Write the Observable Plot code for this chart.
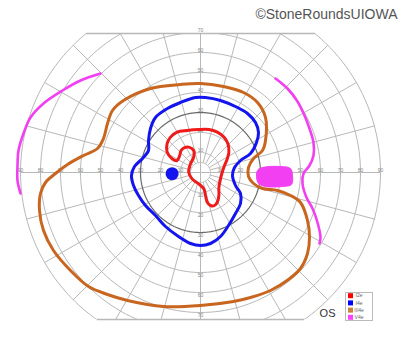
<!DOCTYPE html>
<html><head><meta charset="utf-8">
<script src="https://cdn.jsdelivr.net/npm/d3@7"></script>
<script src="https://cdn.jsdelivr.net/npm/@observablehq/plot@0.6"></script>
<style>
body{margin:0;background:#fff;font-family:"Liberation Sans",Arial,sans-serif}
#wrap{position:relative;width:400px;height:352px}
</style></head><body><div id="wrap"></div>
<script>
// ---- data ----
const isopterNames = ["I2e", "I4e", "III4e", "V4e"];
const isopterColors = ["#ee1b1b", "#1414ee", "#c8651e", "#f23ff2"];
const legendColors = ["#ff0000", "#0000ff", "#c8843c", "#ff40ff"];
const ringEcc = [5, 10, 20, 30, 40, 50, 60, 70, 80, 90];
const meridians = d3.range(0, 360, 15);
const horizTicks = [10, 20, 30, 40, 50, 60, 70, 80, 90];
const vertTicks = [10, 20, 30, 40, 50, 60, 70];
const fieldLimits = [69.5, -73.5]; // top, bottom cut of chart (deg)

// isopters, [horizontal deg, vertical deg]
const i2e = [[-16.7,14.4],[-16.7,10.2],[-14.2,6.9],[-11.7,6],[-10.4,8.5],[-9.7,11],[-8,12.4],[-5.9,12.7],[-3.4,11],[-3.4,7.7],[-5,4.4],[-5.9,0.2],[-4.2,-3.2],[-0.9,-5.7],[1.7,-8.2],[2.5,-11.5],[3.4,-14.9],[5,-16.5],[7,-16.5],[8.4,-14.9],[9.2,-11.5],[9.2,-7.4],[10,-3.2],[10.9,0.2],[12,3.5],[13.4,6.9],[14.2,10.2],[13.7,14.4],[11.7,17.7],[8.4,20.2],[4.2,21.5],[-0.9,21.5],[-6.7,21],[-11.7,20.2],[-15,17.7]];
const i4e = [[-2.5,37.5],[2.5,37.5],[10,36],[18.5,32.5],[23.5,29.5],[27.5,25],[29,20],[28,15],[25,9.5],[20,6],[17,2.5],[16,-1.5],[17.5,-6.5],[20,-10.5],[20,-15.5],[17.5,-20.5],[14,-26.5],[10,-32],[5,-35.5],[0,-36.5],[-5,-35.5],[-11,-32],[-17.5,-27],[-22.5,-21.5],[-27.5,-16.5],[-31,-11.5],[-33.5,-6.5],[-34.5,-1.5],[-33,3],[-29,7],[-26,11],[-26,16],[-25,22],[-22.5,27.5],[-16.5,32],[-10,35]];
const i4eBlindSpot = [[-14.2,-0.6]];
const iii4e = [[0,44.5],[11.5,43],[21.5,40],[28.5,35],[32.5,27.5],[32.5,16],[31,11],[26.5,7],[24,2.5],[24,-2],[26.5,-5.5],[31,-8],[38.5,-9],[45,-11.5],[50,-15],[53.5,-24],[54.5,-32.5],[53.5,-40.5],[50,-48],[44,-53.5],[35,-59],[25,-62.5],[16.5,-64.5],[0,-66.5],[-18.5,-67],[-36.5,-64],[-46.5,-61],[-56,-57],[-65,-49],[-73.5,-39],[-78.5,-29],[-80.5,-19],[-80,-10.5],[-77.5,-5],[-72.5,-0.5],[-66.5,4],[-58.5,8.5],[-51.5,12],[-48.5,17],[-46.5,24.5],[-44,31],[-38.5,36],[-25,42],[-10,44]];
const v4eTemporal = [[-50,49.5],[-60,46],[-69,41],[-78.5,34.5],[-85,27.5],[-88.5,19.5],[-91,11],[-91.5,3.5],[-91.5,-4],[-90,-10.5]];
const v4eNasal = [[37.5,47],[43.5,42],[48.5,35.5],[52,28.5],[54.5,22],[56.5,15],[56.5,8.5],[54.5,3.5],[51.5,-0.5],[51,-5.5],[53,-12.5],[56,-18],[58.5,-25],[60,-32.5],[59.5,-35.5]];
const v4eScotoma = [[28.5,1],[31,2.5],[40,3],[45,2],[46,-1.5],[45.5,-6],[41,-7],[32.5,-7],[29,-5.5],[28,-2]];

// ---- derived grid geometry ----
const rad = a => a * Math.PI / 180;
const ringPts = ringEcc.flatMap(r => d3.range(0, 360, 2).map(a => ({r, x: r * Math.cos(rad(a)), y: r * Math.sin(rad(a))})));
const outer = ringEcc[ringEcc.length - 1];
const spokes = meridians.map(a => {
  const r0 = a % 90 === 0 ? 0 : ringEcc[0];
  return {x1: r0 * Math.cos(rad(a)), y1: r0 * Math.sin(rad(a)), x2: outer * Math.cos(rad(a)), y2: outer * Math.sin(rad(a))};
});
const cuts = fieldLimits.map(y => ({y, x1: -Math.sqrt(outer * outer - y * y), x2: Math.sqrt(outer * outer - y * y)}));
const hLabels = horizTicks.flatMap(v => [{x: -v, t: String(v)}, {x: v, t: String(v)}]);
const vLabels = vertTicks.flatMap(v => [{y: v, t: String(v), top: true}, {y: -v, t: String(v), top: false}]);
const xy = {x: d => d[0], y: d => d[1]};

const grid = "#b8b8b8";
const chart = Plot.plot({
  width: 400, height: 352,
  marginTop: 33, marginBottom: 33, marginLeft: 0, marginRight: 0,
  x: {domain: [-100, 100], axis: null},
  y: {domain: [fieldLimits[1], fieldLimits[0]], axis: null},
  style: {background: "#fff", fontFamily: "Liberation Sans, Arial, sans-serif"},
  marks: [
    Plot.line(ringPts.filter(d => d.r !== 30), {x: "x", y: "y", z: "r", curve: "linear-closed", stroke: grid, strokeWidth: 1, clip: true}),
    Plot.link(spokes, {x1: "x1", y1: "y1", x2: "x2", y2: "y2", stroke: grid, strokeWidth: 1, clip: true}),
    Plot.line(ringPts.filter(d => d.r === 30), {x: "x", y: "y", z: "r", curve: "linear-closed", stroke: "#6a6a6a", strokeWidth: 1.2}),
    Plot.link(cuts, {x1: "x1", x2: "x2", y1: "y", y2: "y", stroke: grid, strokeWidth: 1.4}),
    Plot.text(hLabels, {x: "x", y: () => 0, text: "t", dy: -2.5, fontSize: 5, fill: "#888"}),
    Plot.text(vLabels.filter(d => d.top), {x: () => 0, y: "y", text: "t", dy: -2.5, fontSize: 5, fill: "#888"}),
    Plot.text(vLabels.filter(d => !d.top), {x: () => 0, y: "y", text: "t", dy: 2.5, fontSize: 5, fill: "#888"}),
    Plot.line(v4eScotoma, {...xy, curve: "catmull-rom-closed", fill: isopterColors[3], stroke: isopterColors[3], strokeWidth: 1}),
    Plot.line(v4eTemporal, {...xy, curve: "catmull-rom", stroke: isopterColors[3], strokeWidth: 2.6}),
    Plot.line(v4eNasal, {...xy, curve: "catmull-rom", stroke: isopterColors[3], strokeWidth: 2.6}),
    Plot.line(iii4e, {...xy, curve: "catmull-rom-closed", stroke: isopterColors[2], strokeWidth: 3}),
    Plot.line(i4e, {...xy, curve: "catmull-rom-closed", stroke: isopterColors[1], strokeWidth: 3}),
    Plot.dot(i4eBlindSpot, {...xy, r: 6.5, fill: isopterColors[1]}),
    Plot.line(i2e, {...xy, curve: "catmull-rom-closed", stroke: isopterColors[0], strokeWidth: 3}),
    Plot.text(["©StoneRoundsUIOWA"], {frameAnchor: "top-right", dx: -3, dy: -24, text: d => d, textAnchor: "end", fontSize: 14, fill: "#555"}),
    Plot.text(["OS"], {frameAnchor: "bottom-right", dx: -65, dy: -3, text: d => d, fontSize: 11, fill: "#333"})
  ]
});
document.getElementById("wrap").appendChild(chart);

// legend box drawn inside the svg
const svg = d3.select(chart);
const lg = svg.append("g").attr("transform", "translate(345.5,292.5)");
lg.append("rect").attr("width", 27).attr("height", 28).attr("fill", "#fff").attr("stroke", "#bbb");
isopterNames.forEach((n, i) => {
  const row = lg.append("g").attr("transform", `translate(0,${3.2 + i * 7.2})`);
  row.append("rect").attr("x", 2.5).attr("y", -2.5).attr("width", 5).attr("height", 5).attr("fill", legendColors[i]);
  row.append("text").attr("x", 13.5).attr("y", 0).attr("dy", "0.35em").attr("font-size", 5).attr("fill", "#666").text(n);
});
</script></body></html>
